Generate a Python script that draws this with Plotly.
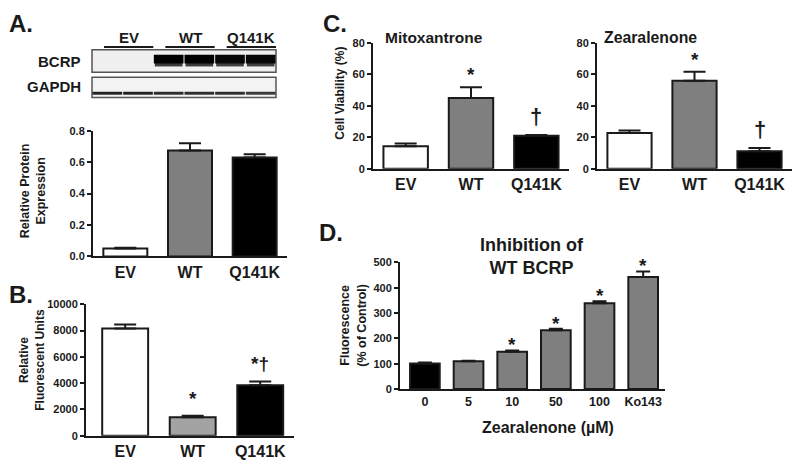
import plotly.graph_objects as go

# ---------------- data ----------------
groups = ["EV", "WT", "Q141K"]

# Panel A - densitometry
a_vals = [0.05, 0.675, 0.63]
a_err = [0.005, 0.045, 0.02]

# Panel A - blot lanes (relative band intensity)
blot_lane_groups = ["EV", "EV", "WT", "WT", "Q141K", "Q141K"]
bcrp_signal = [0.03, 0.03, 1.0, 1.0, 0.97, 0.97]
gapdh_signal = [0.85, 0.85, 0.8, 0.8, 0.8, 0.75]

# Panel B
b_vals = [8150, 1400, 3850]
b_err = [300, 120, 280]
b_marks = ["", "*", "*†"]

# Panel C
mito_vals = [14.3, 45.0, 21.0]
mito_err = [1.8, 6.8, 0.4]
mito_marks = ["", "*", "†"]
zea_vals = [22.8, 56.0, 11.2]
zea_err = [1.5, 5.8, 2.0]
zea_marks = ["", "*", "†"]

# Panel D
d_cats = ["0", "5", "10", "50", "100", "Ko143"]
d_vals = [101, 110, 147, 232, 338, 442]
d_err = [4, 1.5, 5, 6, 8, 22]
d_marks = ["", "", "*", "*", "*", "*"]

# ---------------- helpers ----------------
W, H = 800, 472
FONT = "Liberation Sans, Arial, Helvetica, sans-serif"
INK = "#1a1a1a"


def px(x):
    return x / W


def py(y):
    return 1 - y / H


fig = go.Figure()


def add_bars(cats, vals, errs, colors, ax, capw):
    fig.add_trace(go.Bar(
        x=list(range(len(cats))), y=vals, width=0.68,
        marker=dict(color=colors, line=dict(color=INK, width=2)),
        error_y=dict(type="data", symmetric=False, array=errs,
                     arrayminus=[0] * len(errs), color=INK,
                     thickness=2, width=capw),
        xaxis="x" + ax, yaxis="y" + ax, showlegend=False,
        hoverinfo="skip"))


add_bars(groups, a_vals, a_err, ["white", "#7f7f7f", "black"], "", 11)
add_bars(groups, b_vals, b_err, ["white", "#a3a3a3", "black"], "2", 11)
add_bars(groups, mito_vals, mito_err, ["white", "#7f7f7f", "black"], "3", 11)
add_bars(groups, zea_vals, zea_err, ["white", "#7f7f7f", "black"], "4", 11)
add_bars(d_cats, d_vals, d_err, ["black"] + ["#7f7f7f"] * 5, "5", 7)

fig.data[0].xaxis = "x"
fig.data[0].yaxis = "y"


def xax(dom, rng, size, cats):
    return dict(domain=[px(dom[0]), px(dom[1])], range=rng, showline=True,
                linewidth=2, linecolor=INK, ticks="", showgrid=False,
                zeroline=False, fixedrange=True,
                tickmode="array", tickvals=list(range(len(cats))),
                ticktext=cats,
                tickfont=dict(family=FONT, size=size, color=INK, weight="bold"))


def yax(dom, rng, dtick, anchor, fmt):
    return dict(domain=[py(dom[0]), py(dom[1])], range=rng, dtick=dtick,
                showline=True, linewidth=2, linecolor=INK, ticks="outside",
                ticklen=4, tickwidth=2, tickcolor=INK, showgrid=False,
                zeroline=False, anchor=anchor, fixedrange=True,
                tickformat=fmt,
                tickfont=dict(family=FONT, size=11, color=INK, weight="bold"))


layout = dict(
    width=W, height=H, margin=dict(l=0, r=0, t=0, b=0),
    paper_bgcolor="white", plot_bgcolor="white", showlegend=False,
    xaxis=dict(**xax((93, 287), [-0.5, 2.5], 16, groups), anchor="y"),
    yaxis=yax((257, 128), [0, 0.8], 0.2, "x", ".1f"),
    xaxis2=dict(**xax((86, 294), [-0.58, 2.5], 16, groups), anchor="y2"),
    yaxis2=yax((441, 306), [0, 10000], 2000, "x2", "d"),
    xaxis3=dict(**xax((373, 569), [-0.5, 2.5], 16, groups), anchor="y3"),
    yaxis3=yax((167, 38), [0, 80], 20, "x3", "d"),
    xaxis4=dict(**xax((597, 792), [-0.5, 2.5], 16, groups), anchor="y4"),
    yaxis4=yax((167, 38), [0, 80], 20, "x4", "d"),
    xaxis5=dict(**xax((400, 665), [-0.57, 5.5], 12.5, d_cats), anchor="y5"),
    yaxis5=yax((393, 263), [0, 500], 100, "x5", "d"),
)
fig.update_layout(**layout)

annotations = []
shapes = []


def txt(x, y, s, size, xanchor="center", angle=0, yanchor="middle"):
    annotations.append(dict(
        x=px(x), y=py(y), xref="paper", yref="paper", text=s,
        showarrow=False, xanchor=xanchor, yanchor=yanchor, textangle=angle,
        font=dict(family=FONT, size=size, color=INK, weight="bold")))


# panel letters
txt(7, 18, "A.", 24, "left")
txt(7, 296, "B.", 24, "left")
txt(321, 18, "C.", 24, "left")
txt(317, 232, "D.", 24, "left")

# axis titles
txt(33, 190, "Relative Protein<br>Expression", 12.5, angle=-90)
txt(32, 363, "Relative<br>Fluorescent Units", 12, angle=-90)
txt(340, 90, "Cell Viability (%)", 12, angle=-90)
txt(353, 328, "Fluorescence<br>(% of Control)", 12.5, angle=-90)
txt(434, 32, "Mitoxantrone", 15.5)
txt(650, 32, "Zearalenone", 15.8)
txt(532, 257, "Inhibition of<br>WT BCRP", 18)
txt(548, 432, "Zearalenone (µM)", 16)


# significance marks
def marks(vals, errs, m, ax, shift):
    for i, (v, e, s) in enumerate(zip(vals, errs, m)):
        if s:
            dagger_only = s == "†"
            annotations.append(dict(
                x=i, y=v + e, xref="x" + ax, yref="y" + ax, text=s,
                showarrow=False, yanchor="bottom",
                yshift=shift + (4 if dagger_only else 0),
                font=dict(family=FONT, size=22 if dagger_only else 19,
                          color=INK, weight="bold")))


marks(b_vals, b_err, b_marks, "2", 5)
marks(mito_vals, mito_err, mito_marks, "3", 0)
marks(zea_vals, zea_err, zea_marks, "4", 0)
marks(d_vals, d_err, d_marks, "5", -7)

# ---------------- western blot ----------------
blot_x0, blot_x1 = 92, 276
lane_w = (blot_x1 - blot_x0) / len(blot_lane_groups)


def rect(x0, y0, x1, y1, fill, line_color=None, lw=0):
    shapes.append(dict(type="rect", xref="paper", yref="paper",
                       x0=px(x0), x1=px(x1), y0=py(y1), y1=py(y0),
                       fillcolor=fill,
                       line=dict(color=line_color or fill, width=lw)))


rect(blot_x0, 45, blot_x1, 68, "#efefef", "#555555", 1.5)
rect(blot_x0, 73, blot_x1, 94, "#f3f3f3", "#555555", 1.5)
for i, (sb, sg) in enumerate(zip(bcrp_signal, gapdh_signal)):
    lx0 = blot_x0 + i * lane_w + 0.5
    lx1 = blot_x0 + (i + 1) * lane_w - 0.5
    g = int(235 * (1 - sb))
    if sb > 0.1:
        g2 = int(235 * (1 - 0.75 * sb))
        rect(lx0 + 1, 58, lx1 - 1, 62, f"rgb({g2},{g2},{g2})")
        rect(lx0, 50, lx1, 59, f"rgb({g},{g},{g})")
    gg = int(235 * (1 - sg))
    rect(lx0, 88, lx1, 91, f"rgb({gg},{gg},{gg})")

# lane group labels and underline
seen = []
for gname in blot_lane_groups:
    if gname in seen:
        continue
    seen.append(gname)
    idx = [i for i, v in enumerate(blot_lane_groups) if v == gname]
    gx0 = blot_x0 + idx[0] * lane_w + 12
    gx1 = blot_x0 + (idx[-1] + 1) * lane_w
    shapes.append(dict(type="line", xref="paper", yref="paper",
                       x0=px(gx0), x1=px(gx1), y0=py(42), y1=py(42),
                       line=dict(color=INK, width=2)))
    txt((gx0 + gx1) / 2, 32, gname, 15)

txt(83, 57, "BCRP", 15, "right")
txt(83, 83, "GAPDH", 15, "right")

fig.update_layout(annotations=annotations, shapes=shapes)
fig.write_html("out.html", config={"displayModeBar": False},
               post_script="document.body.style.margin='0';")
